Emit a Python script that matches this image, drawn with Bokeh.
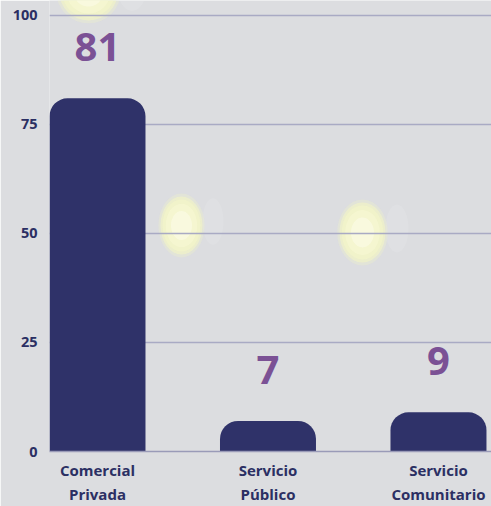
from bokeh.plotting import figure
from bokeh.models import ColumnDataSource, FixedTicker, Range1d
from bokeh.core.properties import value
from bokeh.embed import file_html
from bokeh.resources import INLINE

categories = ["Comercial\nPrivada", "Servicio\nPúblico", "Servicio\nComunitario"]
values = [81, 7, 9]
y_ticks = [0, 25, 50, 75, 100]

BAR = "#2f3269"
PURPLE = "#7b5195"
NAVY = "#2b2f63"
FONT = "Open Sans"

xs = list(range(len(categories)))
src = ColumnDataSource(dict(
    x=xs, top=values,
    label=[str(v) for v in values],
    ly=[v + 8.5 for v in values],
))

p = figure(width=491, height=506, output_backend="svg", toolbar_location=None,
           x_range=Range1d(-0.2815, 2.311), y_range=Range1d(0, 103.44),
           min_border_left=49, min_border_right=0, min_border_top=0, min_border_bottom=55)
p.background_fill_color = "#dcdde0"
p.border_fill_color = "#dcdde0"
p.outline_line_color = None

# decorative glows (background only)
def px2x(px):
    return (px - 97) / 170.5
def py2y(py):
    return (451 - py) / 4.36
glows = [(88, -8, 58, 56), (181, 225, 42, 58), (362, 232, 46, 60)]
for gx, gy, gw, gh in glows:
    r = p.ellipse(x=px2x(gx + gw * 0.75), y=py2y(gy - 4), width=gw * 0.5, height=gh * 0.8,
                  width_units="screen", height_units="screen",
                  fill_color="#ffffff", fill_alpha=0.1, line_color=None)
    r.level = "image"
    for k, col, a in [(1.1, "#eef0c8", 0.35), (1.0, "#f3f5c4", 0.6), (0.9, "#f5f6c8", 0.6),
                      (0.75, "#f8f9d4", 0.6), (0.5, "#fbfbe8", 0.6)]:
        r = p.ellipse(x=px2x(gx), y=py2y(gy), width=gw * k, height=gh * k,
                      width_units="screen", height_units="screen",
                      fill_color=col, fill_alpha=a, line_color=None)
        r.level = "image"

p.vbar(x="x", top="top", bottom=0, width=0.563, source=src, fill_color=BAR,
       line_color=None, border_radius=(18, 18, 0, 0))

p.text(x="x", y="ly", text="label", source=src, text_align="center",
       text_baseline="bottom", text_color=PURPLE, text_font=value(FONT),
       text_font_style="bold", text_font_size="40px")

p.xgrid.grid_line_color = None
p.ygrid.grid_line_color = "#a9aac4"
p.ygrid.grid_line_width = 1.5
p.ygrid.ticker = FixedTicker(ticks=y_ticks)

p.yaxis.ticker = FixedTicker(ticks=y_ticks)
p.yaxis.axis_line_color = None
p.yaxis.major_tick_line_color = None
p.yaxis.minor_tick_line_color = None
p.yaxis.major_tick_out = 0
p.yaxis.major_label_standoff = 12
p.yaxis.major_label_text_font = FONT
p.yaxis.major_label_text_font_style = "bold"
p.yaxis.major_label_text_font_size = "14.5px"
p.yaxis.major_label_text_color = NAVY

p.xaxis.ticker = FixedTicker(ticks=xs)
p.xaxis.major_label_overrides = {i: c for i, c in zip(xs, categories)}
p.xaxis.axis_line_color = "#9a9bb8"
p.xaxis.axis_line_width = 1.5
p.xaxis.major_tick_line_color = None
p.xaxis.minor_tick_line_color = None
p.xaxis.major_tick_out = 0
p.xaxis.major_label_standoff = 8
p.xaxis.major_label_text_font = FONT
p.xaxis.major_label_text_font_style = "bold"
p.xaxis.major_label_text_font_size = "15px"
p.xaxis.major_label_text_color = NAVY

open("out.html", "w").write(file_html(p, INLINE))
